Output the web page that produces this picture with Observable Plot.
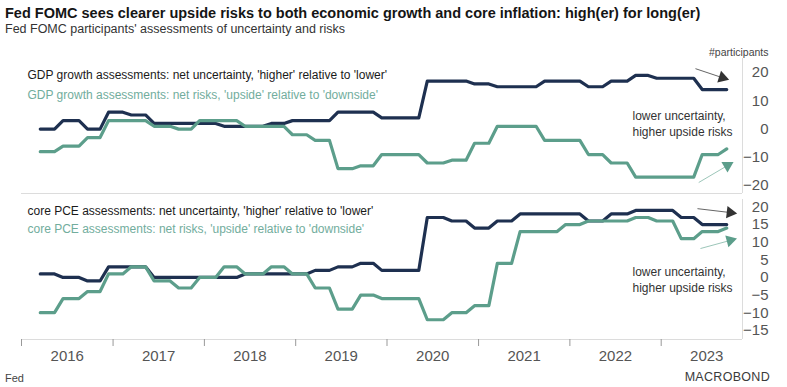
<!DOCTYPE html>
<html>
<head>
<meta charset="utf-8">
<script src="https://cdn.jsdelivr.net/npm/d3@7"></script>
<script src="https://cdn.jsdelivr.net/npm/@observablehq/plot@0.6"></script>
<style>
  body { margin: 0; background: #fff; }
  #wrap { position: relative; width: 787px; height: 387px; overflow: hidden; font-family: 'Liberation Sans', Arial, sans-serif; }
  .abs { position: absolute; white-space: nowrap; }
</style>
</head>
<body>
<div id="wrap">
  <div class="abs" style="left:5px;top:5px;font-size:14.5px;font-weight:bold;color:#151515;">Fed FOMC sees clearer upside risks to both economic growth and core inflation: high(er) for long(er)</div>
  <div class="abs" style="left:5px;top:22px;font-size:12.5px;color:#333;">Fed FOMC participants' assessments of uncertainty and risks</div>
  <div class="abs" id="p1" style="left:0;top:40px;"></div>
  <div class="abs" id="p2" style="left:0;top:195px;"></div>
  <div class="abs" style="left:5px;top:372px;font-size:11px;color:#444;">Fed</div>
  <div class="abs" style="right:17px;top:370px;font-size:12.5px;color:#3a3a3a;letter-spacing:0.3px;">MACROBOND</div>
</div>
<script>
// ---- data ----
const meetingDates = ["2016-03-16","2016-06-15","2016-09-21","2016-12-14","2017-03-15","2017-06-14","2017-09-20","2017-12-13","2018-03-21","2018-06-13","2018-09-26","2018-12-19","2019-03-20","2019-06-19","2019-09-18","2019-12-11","2020-06-10","2020-09-16","2020-12-16","2021-03-17","2021-06-16","2021-09-22","2021-12-15","2022-03-16","2022-06-15","2022-09-21","2022-12-14","2023-03-22","2023-06-14","2023-09-20"];
const gdpUncertainty = [0,3,0,6, 5,2,2,2, 1,1,2,3, 3,6,6,4, 17,17,16, 15,15,17,17, 15,17,19,18, 18,14,14];
const gdpRisks       = [-8,-6,-3,3, 3,1,0,3, 3,1,1,-2, -4,-14,-13,-9, -12,-11,-5, 1,1,-4,-4, -9,-12,-17,-17, -17,-9,-7];
const pceUncertainty = [1,0,-1,3, 3,0,0,0, 0,1,1,1, 2,3,4,2, 17,16,14, 16,18,18,18, 16,18,19,19, 17,15,15];
const pceRisks       = [-10,-6,-4,1, 3,-1,-3,0, 3,1,3,1, -3,-9,-5,-6, -12,-10,-8, 4,13,13,15, 16,16,17,16, 11,13,14];
const years = [2016,2017,2018,2019,2020,2021,2022,2023];
const gdpTicks = [-20,-10,0,10,20];
const pceTicks = [-15,-10,-5,0,5,10,15,20];
const gdpLabels = ["GDP growth assessments: net uncertainty, 'higher' relative to 'lower'", "GDP growth assessments: net risks, 'upside' relative to 'downside'"];
const pceLabels = ["core PCE assessments: net uncertainty, 'higher' relative to 'lower'", "core PCE assessments: net risks, 'upside' relative to 'downside'"];
const noteText = "lower uncertainty,\nhigher upside risks";
const unitText = "#participants";
// annotation arrows (data coordinates)
const gdpArrows = [
  {x1: "2023-05-18", y1: 21.4, x2: "2023-09-03", y2: 18.2, rotate: 108, kind: "u"},
  {x1: "2023-05-31", y1: -18.9, x2: "2023-09-23", y2: -12.9, rotate: 60, kind: "r"}
];
const pceArrows = [
  {x1: "2023-05-26", y1: 19.5, x2: "2023-10-04", y2: 18.4, rotate: 97, kind: "u"},
  {x1: "2023-06-07", y1: 8.2, x2: "2023-10-04", y2: 10.5, rotate: 75, kind: "r"}
];

// ---- styling ----
const DARK = "#1e3050", GREEN = "#5c9e8b", GREEN_TXT = "#72ad9d";
const FONT = "'Liberation Sans', Arial, sans-serif";
const xDomain = [new Date("2016-01-01"), new Date("2023-11-22")];

// held-value curve: flat, then a short ramp into the next observation
function heldStep(context) {
  let x0, y0, started = false;
  return {
    areaStart() {}, areaEnd() {},
    lineStart() { started = false; },
    lineEnd() {},
    point(x, y) {
      x = +x; y = +y;
      if (!started) { started = true; context.moveTo(x, y); }
      else { context.lineTo(Math.max(x0, x - 8.5), y0); context.lineTo(x, y); }
      x0 = x; y0 = y;
    }
  };
}

function rows(u, r) {
  return meetingDates.map((d, i) => ({date: new Date(d), u: u[i], r: r[i]}));
}
function arrowRows(a) {
  return a.map(d => ({...d, x1: new Date(d.x1), x2: new Date(d.x2)}));
}

function panel({data, yDomain, ticks, labels, arrows, height, marginTop, marginBottom, legendDy, noteDy, xAxis, unit}) {
  const arr = arrowRows(arrows);
  const marks = [
    Plot.ruleY([yDomain[0]], {stroke: "#dcdcdc", strokeWidth: 1}),
    Plot.ruleX([xDomain[1]], {stroke: "#dcdcdc", strokeWidth: 1}),
    Plot.axisY({anchor: "right", ticks, tickSize: 0, tickPadding: 26, textAnchor: "end", fontSize: 15, label: null, fill: "#555"}),
    Plot.line(data, {x: "date", y: "u", stroke: DARK, strokeWidth: 3.2, curve: heldStep, strokeLinejoin: "round"}),
    Plot.line(data, {x: "date", y: "r", stroke: GREEN, strokeWidth: 3.2, curve: heldStep, strokeLinejoin: "round"}),
    Plot.text([labels[0]], {text: d => d, frameAnchor: "top-left", dx: 6, dy: legendDy[0], textAnchor: "start", lineAnchor: "middle", fill: "#1a1a1a", fontSize: 12}),
    Plot.text([labels[1]], {text: d => d, frameAnchor: "top-left", dx: 6, dy: legendDy[1], textAnchor: "start", lineAnchor: "middle", fill: GREEN_TXT, fontSize: 12}),
    Plot.text([noteText], {text: d => d, frameAnchor: "top-right", dx: -110, dy: noteDy, textAnchor: "start", lineAnchor: "middle", lineHeight: 1.33, fill: "#333", fontSize: 12}),
    Plot.link(arr, {x1: "x1", y1: "y1", x2: "x2", y2: "y2", stroke: d => d.kind === "u" ? "#666" : "#9cc6b9", strokeWidth: 1}),
    Plot.dot(arr, {x: "x2", y: "y2", symbol: "triangle", r: 4.5, rotate: "rotate", fill: d => d.kind === "u" ? "#333" : GREEN, stroke: "none"})
  ];
  if (unit) {
    marks.push(Plot.text([unit], {text: d => d, frameAnchor: "top-right", dx: 26, dy: -6, textAnchor: "end", lineAnchor: "middle", fill: "#444", fontSize: 10.5}));
  }
  if (xAxis) {
    marks.push(
      Plot.axisX({ticks: years.map(y => new Date(Date.UTC(y, 0, 1))), tickSize: 7, tickFormat: () => "", stroke: "#999", label: null}),
      Plot.axisX({ticks: years.map(y => new Date(Date.UTC(y, 6, 2))), tickSize: 0, tickPadding: 11, tickFormat: d => String(d.getUTCFullYear()), fontSize: 15, fill: "#555", label: null})
    );
  }
  return Plot.plot({
    width: 787, height, marginLeft: 21, marginRight: 45, marginTop, marginBottom,
    x: {type: "utc", domain: xDomain, axis: xAxis ? undefined : null},
    y: {domain: yDomain, label: null},
    style: {fontFamily: FONT, fontSize: "12px", color: "#555", background: "transparent", overflow: "visible"},
    marks
  });
}

document.getElementById("p1").append(panel({
  data: rows(gdpUncertainty, gdpRisks), yDomain: [-22.8, 25], ticks: gdpTicks, labels: gdpLabels,
  arrows: gdpArrows, height: 155, marginTop: 18, marginBottom: 2, legendDy: [17, 37], noteDy: 64, xAxis: false, unit: unitText
}));
document.getElementById("p2").append(panel({
  data: rows(pceUncertainty, pceRisks), yDomain: [-17.6, 22.1], ticks: pceTicks, labels: pceLabels,
  arrows: pceArrows, height: 174, marginTop: 4, marginBottom: 30, legendDy: [11.5, 30], noteDy: 79.5, xAxis: true
}));
</script>
</body>
</html>
